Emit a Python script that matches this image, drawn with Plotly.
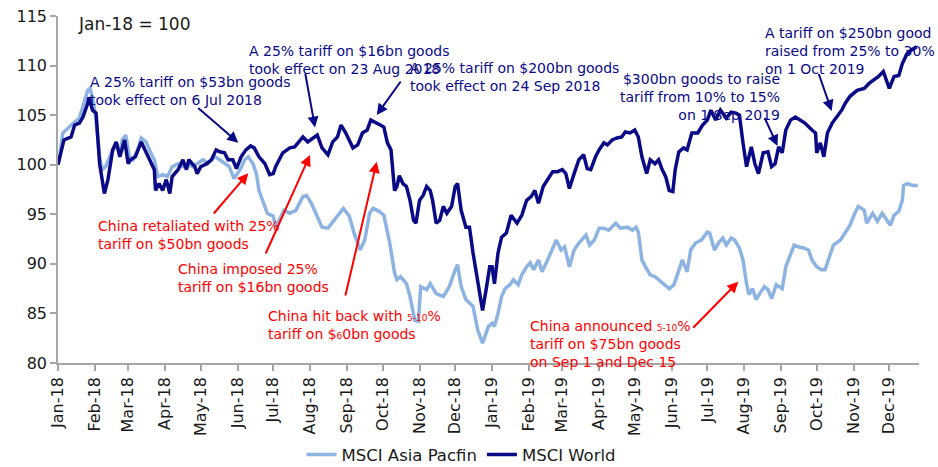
import plotly.graph_objects as go

# ---------------- data ----------------
world_dates = [
    "2018-01-01","2018-01-02","2018-01-06","2018-01-12","2018-01-15","2018-01-19","2018-01-22","2018-01-26",
    "2018-01-27","2018-01-30","2018-02-02","2018-02-05","2018-02-09","2018-02-12","2018-02-16","2018-02-19",
    "2018-02-22","2018-02-26","2018-03-01","2018-03-03","2018-03-07","2018-03-12","2018-03-14","2018-03-19",
    "2018-03-23","2018-03-24","2018-03-27","2018-03-30","2018-04-02","2018-04-05","2018-04-07","2018-04-12",
    "2018-04-16","2018-04-19","2018-04-21","2018-04-26","2018-04-28","2018-05-01","2018-05-06","2018-05-10",
    "2018-05-14","2018-05-17","2018-05-21","2018-05-24","2018-05-28","2018-05-31","2018-06-04","2018-06-08",
    "2018-06-12","2018-06-15","2018-06-19","2018-06-24","2018-06-28","2018-07-01","2018-07-03","2018-07-09",
    "2018-07-15","2018-07-19","2018-07-22","2018-07-26","2018-07-30","2018-08-03","2018-08-07","2018-08-11",
    "2018-08-16","2018-08-20","2018-08-24","2018-08-27","2018-08-31","2018-09-06","2018-09-10","2018-09-14",
    "2018-09-18","2018-09-21","2018-09-25","2018-09-29","2018-10-02","2018-10-05","2018-10-08","2018-10-11",
    "2018-10-13","2018-10-15","2018-10-18","2018-10-21","2018-10-24","2018-10-27","2018-10-29","2018-11-01",
    "2018-11-04","2018-11-07","2018-11-10","2018-11-12","2018-11-15","2018-11-18","2018-11-21","2018-11-24",
    "2018-11-28","2018-12-01","2018-12-03","2018-12-06","2018-12-10","2018-12-13","2018-12-16","2018-12-20",
    "2018-12-23","2018-12-24","2018-12-27","2018-12-30","2019-01-01","2019-01-03","2019-01-06","2019-01-09",
    "2019-01-13","2019-01-17","2019-01-22","2019-01-26","2019-01-30","2019-02-03","2019-02-06","2019-02-09",
    "2019-02-13","2019-02-17","2019-02-21","2019-02-25","2019-03-01","2019-03-04","2019-03-07","2019-03-11",
    "2019-03-15","2019-03-19","2019-03-22","2019-03-25","2019-03-29","2019-04-01","2019-04-05","2019-04-08",
    "2019-04-12","2019-04-16","2019-04-20","2019-04-23","2019-04-27","2019-05-01","2019-05-04","2019-05-07",
    "2019-05-11","2019-05-14","2019-05-18","2019-05-21","2019-05-24","2019-05-27","2019-05-30","2019-06-02",
    "2019-06-04","2019-06-07","2019-06-11","2019-06-14","2019-06-18","2019-06-23","2019-06-27","2019-07-01",
    "2019-07-04","2019-07-08","2019-07-12","2019-07-17","2019-07-21","2019-07-25","2019-07-28","2019-07-31",
    "2019-08-03","2019-08-07","2019-08-10","2019-08-13","2019-08-17","2019-08-21","2019-08-24","2019-08-27",
    "2019-08-30","2019-09-02","2019-09-05","2019-09-09","2019-09-13","2019-09-17","2019-09-21","2019-09-27",
    "2019-09-30","2019-10-01","2019-10-04","2019-10-07","2019-10-10","2019-10-14","2019-10-18","2019-10-22",
    "2019-10-25","2019-10-29","2019-11-04","2019-11-10","2019-11-14","2019-11-18","2019-11-22","2019-11-26",
    "2019-12-01","2019-12-05","2019-12-09","2019-12-12","2019-12-16","2019-12-20","2019-12-24",
]
world_vals = [
    100.0,100.5,102.5,102.8,104.0,104.2,104.8,106.2,
    106.8,105.5,105.2,100.1,97.1,98.5,101.5,102.3,
    100.8,102.5,100.1,100.5,100.8,102.3,101.8,100.5,
    99.5,97.4,98.1,97.4,98.5,97.1,98.8,99.5,
    100.5,99.5,100.5,99.8,99.1,99.8,100.1,100.5,
    101.5,101.3,101.2,100.5,100.5,99.6,100.8,101.5,
    101.9,101.7,100.8,100.1,99.0,99.1,99.8,101.2,
    101.7,101.8,102.2,102.8,102.3,102.7,103.0,101.7,
    101.0,102.3,102.8,104.0,103.2,101.7,102.0,103.2,
    103.5,104.5,104.2,104.0,103.8,102.2,101.5,97.4,
    97.8,98.9,98.1,97.8,96.4,94.4,94.1,96.4,
    96.9,97.8,97.4,96.4,94.1,94.4,95.8,95.1,
    95.8,97.8,98.1,95.4,93.7,93.7,91.1,88.4,
    86.0,85.3,87.4,89.7,89.7,88.0,91.1,92.7,
    93.1,94.9,94.1,94.9,96.4,96.8,97.4,96.1,
    97.8,98.5,99.3,99.3,99.5,99.1,97.6,99.1,
    100.5,101.0,99.6,99.5,100.8,101.5,102.2,102.0,
    102.5,102.7,102.8,103.3,103.2,103.5,102.8,100.8,
    99.1,100.5,100.1,100.5,99.5,98.8,97.4,97.3,
    99.5,101.3,101.7,101.5,103.2,103.2,104.0,104.5,
    105.5,104.5,105.5,104.7,105.3,105.2,105.0,102.2,
    99.8,101.8,100.1,99.1,101.2,101.3,99.8,100.1,
    101.8,101.2,103.5,104.5,104.8,104.5,104.2,103.5,
    103.2,101.2,102.2,100.8,103.2,104.2,104.8,105.5,
    106.2,106.9,107.5,107.7,108.2,108.5,108.9,109.4,
    107.7,108.9,109.0,110.2,111.2,111.6,111.9,
]

asia_dates = [
    "2018-01-01","2018-01-02","2018-01-05","2018-01-10","2018-01-15","2018-01-19","2018-01-23","2018-01-26",
    "2018-01-28","2018-01-31","2018-02-02","2018-02-05","2018-02-07","2018-02-10","2018-02-15","2018-02-19",
    "2018-02-22","2018-02-24","2018-02-27","2018-03-02","2018-03-05","2018-03-09","2018-03-12","2018-03-16",
    "2018-03-20","2018-03-23","2018-03-26","2018-03-30","2018-04-03","2018-04-07","2018-04-12","2018-04-16",
    "2018-04-20","2018-04-24","2018-04-28","2018-05-03","2018-05-07","2018-05-13","2018-05-17","2018-05-21",
    "2018-05-25","2018-05-29","2018-06-03","2018-06-07","2018-06-10","2018-06-14","2018-06-17","2018-06-19",
    "2018-06-22","2018-06-26","2018-07-01","2018-07-03","2018-07-06","2018-07-10","2018-07-15","2018-07-20",
    "2018-07-26","2018-07-29","2018-08-02","2018-08-06","2018-08-11","2018-08-16","2018-08-21","2018-08-26",
    "2018-08-29","2018-09-03","2018-09-07","2018-09-12","2018-09-16","2018-09-20","2018-09-23","2018-09-28",
    "2018-10-02","2018-10-07","2018-10-11","2018-10-13","2018-10-16","2018-10-21","2018-10-24","2018-10-28",
    "2018-10-31","2018-11-02","2018-11-07","2018-11-10","2018-11-15","2018-11-21","2018-11-26","2018-12-01",
    "2018-12-03","2018-12-06","2018-12-10","2018-12-16","2018-12-20","2018-12-24","2018-12-29","2019-01-01",
    "2019-01-03","2019-01-06","2019-01-09","2019-01-12","2019-01-16","2019-01-19","2019-01-23","2019-01-26",
    "2019-01-30","2019-02-02","2019-02-05","2019-02-09","2019-02-12","2019-02-16","2019-02-20","2019-02-24",
    "2019-02-28","2019-03-03","2019-03-07","2019-03-11","2019-03-15","2019-03-21","2019-03-24","2019-03-28",
    "2019-04-01","2019-04-05","2019-04-09","2019-04-15","2019-04-19","2019-04-25","2019-04-29","2019-05-02",
    "2019-05-04","2019-05-07","2019-05-10","2019-05-14","2019-05-18","2019-05-23","2019-05-27","2019-05-30",
    "2019-06-03","2019-06-07","2019-06-10","2019-06-14","2019-06-17","2019-06-21","2019-06-26","2019-07-01",
    "2019-07-03","2019-07-07","2019-07-11","2019-07-14","2019-07-17","2019-07-21","2019-07-24","2019-07-28",
    "2019-07-31","2019-08-03","2019-08-05","2019-08-08","2019-08-11","2019-08-14","2019-08-18","2019-08-21",
    "2019-08-24","2019-08-28","2019-09-02","2019-09-05","2019-09-07","2019-09-12","2019-09-16","2019-09-20",
    "2019-09-24","2019-09-27","2019-10-01","2019-10-05","2019-10-08","2019-10-11","2019-10-15","2019-10-21",
    "2019-10-25","2019-10-29","2019-11-02","2019-11-05","2019-11-10","2019-11-12","2019-11-17","2019-11-21",
    "2019-11-25","2019-11-29","2019-12-02","2019-12-05","2019-12-09","2019-12-12","2019-12-13","2019-12-16",
    "2019-12-21","2019-12-25",
]
asia_vals = [
    100.0,100.5,103.2,103.8,104.3,104.7,106.2,107.5,
    107.7,106.2,104.5,100.8,99.5,99.8,101.2,102.0,
    101.2,102.5,103.0,100.8,100.5,101.5,102.7,102.3,
    101.2,100.5,98.8,99.0,98.8,99.8,100.1,99.8,
    100.1,99.8,100.1,100.5,100.1,100.8,100.5,100.1,
    99.8,98.6,99.5,100.5,100.8,100.1,99.0,97.4,
    96.4,95.1,94.8,93.7,94.4,95.4,95.1,95.4,
    96.8,96.9,96.1,95.1,93.7,93.6,94.4,95.1,
    95.6,94.8,93.1,91.4,92.4,95.1,95.6,95.3,
    94.9,92.1,89.1,88.4,88.7,88.0,86.7,84.3,
    84.2,87.7,87.4,88.0,87.0,86.7,87.7,89.4,
    89.9,87.7,86.4,85.7,83.3,82.0,83.7,84.0,
    83.7,85.0,86.7,87.5,87.9,88.4,87.9,88.9,
    89.7,90.1,89.4,90.4,89.2,90.2,91.2,92.4,
    91.4,91.7,89.7,91.4,92.1,92.9,91.9,92.4,
    93.6,93.6,93.4,94.1,93.6,93.7,93.4,93.7,
    93.2,90.4,89.7,88.9,88.7,88.2,87.7,87.5,
    87.9,89.2,90.4,89.2,91.4,92.1,92.4,93.2,
    93.1,91.4,92.2,92.6,91.9,92.6,92.4,91.6,
    90.4,88.0,86.9,87.5,86.4,87.0,87.7,87.4,
    86.5,87.9,87.5,89.7,90.4,91.9,91.7,91.6,
    91.4,90.4,89.7,89.4,89.4,90.4,91.9,92.4,
    93.1,93.9,95.1,95.8,95.4,94.1,95.1,94.3,
    95.1,94.4,93.9,94.9,95.3,96.4,97.9,98.1,
    97.9,97.9,
]

series_names = ["MSCI Asia Pacfin", "MSCI World"]
y_ticks = [80, 85, 90, 95, 100, 105, 110, 115]

NAVY = "#0a0a87"
LIGHT = "#8db3e2"
RED = "#ff0000"
TXT = "#1a1a1a"

fig = go.Figure()
fig.add_trace(go.Scatter(x=asia_dates, y=asia_vals, mode="lines", name=series_names[0],
                         line=dict(color=LIGHT, width=3.5)))
fig.add_trace(go.Scatter(x=world_dates, y=world_vals, mode="lines", name=series_names[1],
                         line=dict(color=NAVY, width=3.5)))

small = "<span style='font-size:9px'>{}</span>"

texts = [
    # (text, x_paper, y_paper, xanchor, align, color)
    ("A 25% tariff on $53bn goods<br>took effect on 6 Jul 2018", 0.0348, 0.8386, "left", "left", NAVY),
    ("A 25% tariff on $16bn goods<br>took effect on 23 Aug 2018", 0.2192, 0.9280, "left", "left", NAVY),
    ("A 25% tariff on $200bn goods<br>took effect on 24 Sep 2018", 0.4065, 0.8798, "left", "left", NAVY),
    ("$300bn goods to raise<br>tariff from 10% to 15%<br>on 1 Sep 2019", 0.8405, 0.8464, "right", "right", NAVY),
    ("A tariff on $250bn good<br>raised from 25% to 30%<br>on 1 Oct 2019", 0.8192, 0.9807, "left", "left", NAVY),
    ("China retaliated with 25%<br>tariff on $50bn goods", 0.0441, 0.4236, "left", "left", RED),
    ("China imposed 25%<br>tariff on $16bn goods", 0.1370, 0.2988, "left", "left", RED),
    ("China hit back with " + small.format("5-10") + "%<br>tariff on $" + small.format("6") + "0bn goods",
     0.2416, 0.1643, "left", "left", RED),
    ("China announced " + small.format("5-10") + "%<br>tariff on $75bn goods<br>on Sep 1 and Dec 15",
     0.5462, 0.1354, "left", "left", RED),
]
for t, x, y, xa, al, c in texts:
    fig.add_annotation(text=t, x=x, y=y, xref="paper", yref="paper", xanchor=xa, yanchor="top",
                       align=al, showarrow=False, font=dict(family="DejaVu Sans", size=14, color=c))

arrows = [
    # (x_paper head, y_paper head, ax px, ay px, color)
    (0.2094, 0.6349, -41.6, -36.0, NAVY),
    (0.2985, 0.6787, -10.0, -55.5, NAVY),
    (0.3702, 0.7147, 25.0, -35.0, NAVY),
    (0.8357, 0.6254, -13.5, -29.5, NAVY),
    (0.8986, 0.7262, -13.4, -38.5, NAVY),
    (0.2210, 0.5467, -35.8, 41.7, RED),
    (0.2927, 0.5994, -45.0, 100.0, RED),
    (0.3702, 0.5801, -31.7, 135.3, RED),
    (0.7901, 0.2343, -46.6, 47.6, RED),
]
for x, y, ax, ay, c in arrows:
    fig.add_annotation(text="", x=x, y=y, xref="paper", yref="paper", ax=ax, ay=ay,
                       showarrow=True, arrowhead=2, arrowsize=1.1, arrowwidth=2, arrowcolor=c)

fig.add_annotation(text="Jan-18 = 100", x=0.0209, y=0.977, xref="paper", yref="paper",
                   xanchor="left", yanchor="middle", showarrow=False,
                   font=dict(family="DejaVu Sans", size=17, color=TXT))

fig.update_layout(
    width=938, height=467,
    margin=dict(l=58, r=19, t=16, b=104),
    paper_bgcolor="white", plot_bgcolor="white",
    font=dict(family="DejaVu Sans", size=16, color=TXT),
    showlegend=True,
    legend=dict(orientation="h", xref="container", yref="container", x=0.492, y=0.026,
                xanchor="center", yanchor="middle", font=dict(size=16.5, color=TXT),
                bgcolor="rgba(0,0,0,0)", itemwidth=30, tracegroupgap=0),
)
fig.update_xaxes(
    type="date", range=["2018-01-01", "2019-12-26"], tick0="2018-01-01", dtick="M1",
    tickformat="%b-%y", tickangle=-90, showgrid=False, zeroline=False,
    showline=True, linecolor="#a6a6a6", linewidth=1.5,
    ticks="outside", ticklen=6, tickcolor="#a6a6a6", tickwidth=1.5,
    tickfont=dict(size=16, color=TXT), automargin=False,
)
fig.update_yaxes(
    range=[80, 115], tickvals=y_ticks, showgrid=False, zeroline=False,
    showline=True, linecolor="#a6a6a6", linewidth=1.5,
    ticks="outside", ticklen=6, tickcolor="#a6a6a6", tickwidth=1.5,
    tickfont=dict(size=16, color=TXT), automargin=False,
)

fig.write_html("out.html", config={"displayModeBar": False},
               post_script="document.body.style.margin='0px';")
